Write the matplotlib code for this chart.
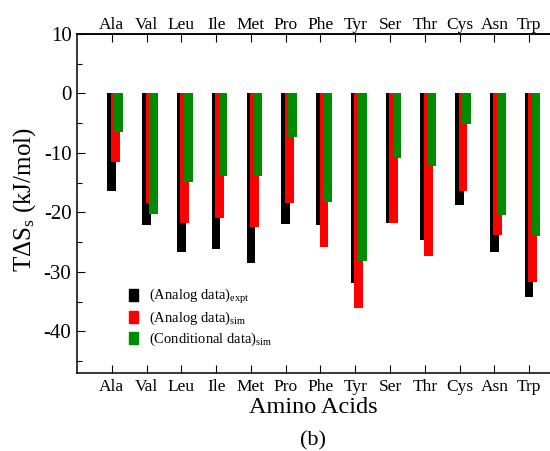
import numpy as np
import matplotlib
matplotlib.use('Agg')
import matplotlib.pyplot as plt
from matplotlib.patches import Patch

plt.rcParams['font.family'] = ['Liberation Serif', 'DejaVu Serif']
plt.rcParams['mathtext.fontset'] = 'custom'
plt.rcParams['mathtext.rm'] = 'Liberation Serif'
plt.rcParams['mathtext.it'] = 'Liberation Serif:italic'
plt.rcParams['axes.unicode_minus'] = False

# T*dS_s values in kJ/mol
amino_acids = ['Ala', 'Val', 'Leu', 'Ile', 'Met', 'Pro', 'Phe',
               'Tyr', 'Ser', 'Thr', 'Cys', 'Asn', 'Trp']
analog_expt = [-16.4, -22.1, -26.7, -26.2, -28.5, -22.0, -22.1,
               -31.8, -21.8, -24.7, -18.8, -26.6, -34.2]
analog_sim = [-11.5, -18.4, -21.7, -21.0, -22.4, -18.4, -25.9,
              -36.0, -21.7, -27.3, -16.4, -23.8, -31.7]
conditional_sim = [-6.4, -20.2, -14.9, -13.9, -13.9, -7.3, -18.2,
                   -28.2, -10.8, -12.2, -5.2, -20.5, -23.9]

fig = plt.figure(figsize=(5.5, 4.51), dpi=100)
ax = fig.add_axes([0.14, 0.173, 0.86, 0.7516])

x = np.arange(1, len(amino_acids) + 1)
ax.bar(x, analog_expt, width=0.25, color='black', linewidth=0)
ax.bar(x + 0.1, analog_sim, width=0.25, color='#ff0000', linewidth=0)
ax.bar(x + 0.2, conditional_sim, width=0.25, color='#008c00', linewidth=0)

ax.set_xlim(0, 13.6)
ax.set_ylim(-47, 10)
ax.set_xticks(x)
ax.set_xticklabels(amino_acids)
ax.set_yticks([-40, -30, -20, -10, 0, 10])
ax.set_yticks([-45, -35, -25, -15, -5, 5], minor=True)

ax.spines['right'].set_visible(False)
for s in ['left', 'top', 'bottom']:
    ax.spines[s].set_linewidth(1.1)

ax.tick_params(axis='x', which='major', direction='in', length=6, width=0.8,
               top=False, labelsize=12.5, pad=4)
ax.tick_params(axis='y', which='major', direction='in', length=6, width=0.8,
               labelsize=15, pad=4)
ax.tick_params(axis='y', which='minor', direction='in', length=3.5, width=0.8)

# amino acid names repeated along the top
top = ax.secondary_xaxis('top')
top.set_xticks(x)
top.set_xticklabels(amino_acids)
top.spines['top'].set_linewidth(1.1)
top.tick_params(direction='in', length=6, width=0.8, labelsize=12.5, pad=1)

ax.set_xlabel('Amino Acids', fontsize=17.5, labelpad=2)
ax.set_ylabel('TΔS$_{\\rm s}$ (kJ/mol)', fontsize=18)
ax.yaxis.set_label_coords(-0.083, 0.51)

handles = [Patch(color='black'), Patch(color='#ff0000'), Patch(color='#008c00')]
labels = ['(Analog data)$_{\\rm expt}$', '(Analog data)$_{\\rm sim}$',
          '(Conditional data)$_{\\rm sim}$']
ax.legend(handles, labels, loc='upper left', bbox_to_anchor=(0.221, 0.379),
          bbox_transform=fig.transFigure, frameon=False, fontsize=10.5,
          handlelength=0.6, handleheight=0.9, handletextpad=0.75,
          labelspacing=0.25, borderpad=0)

fig.text(0.569, 0.012, '(b)', fontsize=16, ha='center', va='baseline')

plt.savefig('out.png', dpi=100)
